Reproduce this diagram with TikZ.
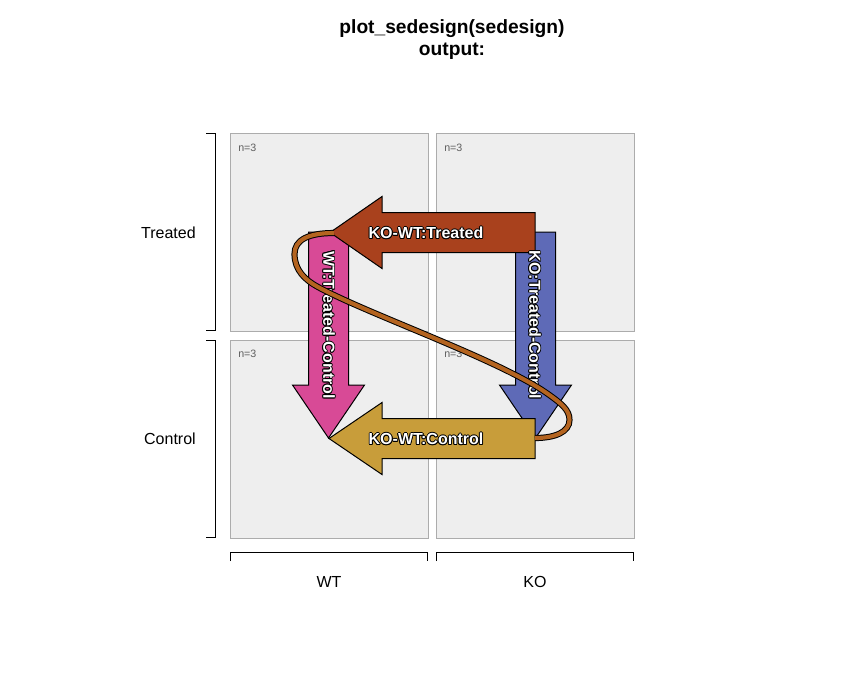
\documentclass[tikz,border=0pt]{standalone}
\usepackage{fontspec}
\setmainfont{Liberation Sans}
\definecolor{redA}{RGB}{169,65,29}
\definecolor{pinkA}{RGB}{216,74,150}
\definecolor{blueA}{RGB}{94,106,183}
\definecolor{goldA}{RGB}{200,157,58}
\definecolor{brownC}{RGB}{180,100,32}
\definecolor{panelfill}{RGB}{238,238,238}
\definecolor{panelline}{RGB}{172,172,172}
\definecolor{ngrey}{RGB}{95,95,95}
\newcommand{\hcopy}[3]{\rlap{\kern#1\raisebox{#2}{\textcolor{black}{#3}}}}
\newcommand{\halotext}[1]{%
  \hcopy{0.7pt}{0pt}{#1}\hcopy{-0.7pt}{0pt}{#1}%
  \hcopy{0pt}{0.7pt}{#1}\hcopy{0pt}{-0.7pt}{#1}%
  \hcopy{0.5pt}{0.5pt}{#1}\hcopy{-0.5pt}{0.5pt}{#1}%
  \hcopy{0.5pt}{-0.5pt}{#1}\hcopy{-0.5pt}{-0.5pt}{#1}%
  \textcolor{white}{#1}}
\begin{document}
\begin{tikzpicture}[x=0.75pt,y=-0.75pt,
  panel/.style={draw=panelline,fill=panelfill,line width=0.75pt},
  bracket/.style={draw=black,line width=0.75pt},
  axlabel/.style={font=\fontsize{12}{14}\selectfont,inner sep=0pt},
  ncount/.style={font=\fontsize{8}{9}\selectfont,text=ngrey,inner sep=0pt,anchor=west},
  arrowbody/.style={draw=black,line width=0.75pt,line join=miter},
  arrowlabel/.style={font=\bfseries\fontsize{12}{14}\selectfont,inner sep=0pt},
  titletext/.style={font=\bfseries\fontsize{14.4}{16.5}\selectfont,align=center,inner sep=0pt}]
\useasboundingbox (0,0) rectangle (864,672);
% title
\node[titletext] (title) at (452,40) {plot\_sedesign(sedesign)\\output:};
% panels
\draw[panel] (230,133) rectangle (428,331);
\draw[panel] (436,133) rectangle (634,331);
\draw[panel] (230,340) rectangle (428,538);
\draw[panel] (436,340) rectangle (634,538);
\node[ncount] (n1) at (238,148) {n=3};
\node[ncount] (n2) at (444,148) {n=3};
\node[ncount] (n3) at (238,354) {n=3};
\node[ncount] (n4) at (444,354) {n=3};
% brackets
\draw[bracket] (206,133.5) -- (215,133.5) -- (215,330.5) -- (206,330.5);
\draw[bracket] (206,340.5) -- (215,340.5) -- (215,537.5) -- (206,537.5);
\draw[bracket] (230.5,561) -- (230.5,552.5) -- (427.5,552.5) -- (427.5,561);
\draw[bracket] (436.5,561) -- (436.5,552.5) -- (633.5,552.5) -- (633.5,561);
\node[axlabel,anchor=east] (lT) at (196,233) {Treated};
\node[axlabel,anchor=east] (lC) at (196,439) {Control};
\node[axlabel] (lWT) at (329,582) {WT};
\node[axlabel] (lKO) at (535,582) {KO};
% arrows
\draw[arrowbody,fill=pinkA] (308.5,232) -- (348.5,232) -- (348.5,385) -- (364.5,385) -- (328.5,438) -- (292.5,385) -- (308.5,385) -- cycle;
\draw[arrowbody,fill=blueA] (515.5,232) -- (555.5,232) -- (555.5,385) -- (571.5,385) -- (535.5,438) -- (499.5,385) -- (515.5,385) -- cycle;
\draw[arrowbody,fill=redA] (535,212.5) -- (382,212.5) -- (382,196.5) -- (330,232.5) -- (382,268.5) -- (382,252.5) -- (535,252.5) -- cycle;
\draw[arrowbody,fill=goldA] (535,418.5) -- (382,418.5) -- (382,402.5) -- (329,438.5) -- (382,474.5) -- (382,458.5) -- (535,458.5) -- cycle;
% labels
\node[arrowlabel] (aT) at (426,233) {\halotext{KO-WT:Treated}};
\node[arrowlabel] (aC) at (426,439) {\halotext{KO-WT:Control}};
\node[arrowlabel,rotate=-90] (aWT) at (329,325) {\halotext{WT:Treated-Control}};
\node[arrowlabel,rotate=-90] (aKO) at (535,325) {\halotext{KO:Treated-Control}};
% interaction curve
\def\curvepath{(334,233) .. controls (308,233) and (294.5,240) .. (294.5,254)
  .. controls (294.5,270) and (305,280) .. (318,287)
  .. controls (370,315) and (500,360) .. (548,394)
  .. controls (562,404) and (569.5,410) .. (569.5,420)
  .. controls (569.5,432) and (555,438) .. (535,438)}
\draw[black,line width=4.6pt] \curvepath;
\draw[brownC,line width=3.1pt] \curvepath;
\end{tikzpicture}
\end{document}
